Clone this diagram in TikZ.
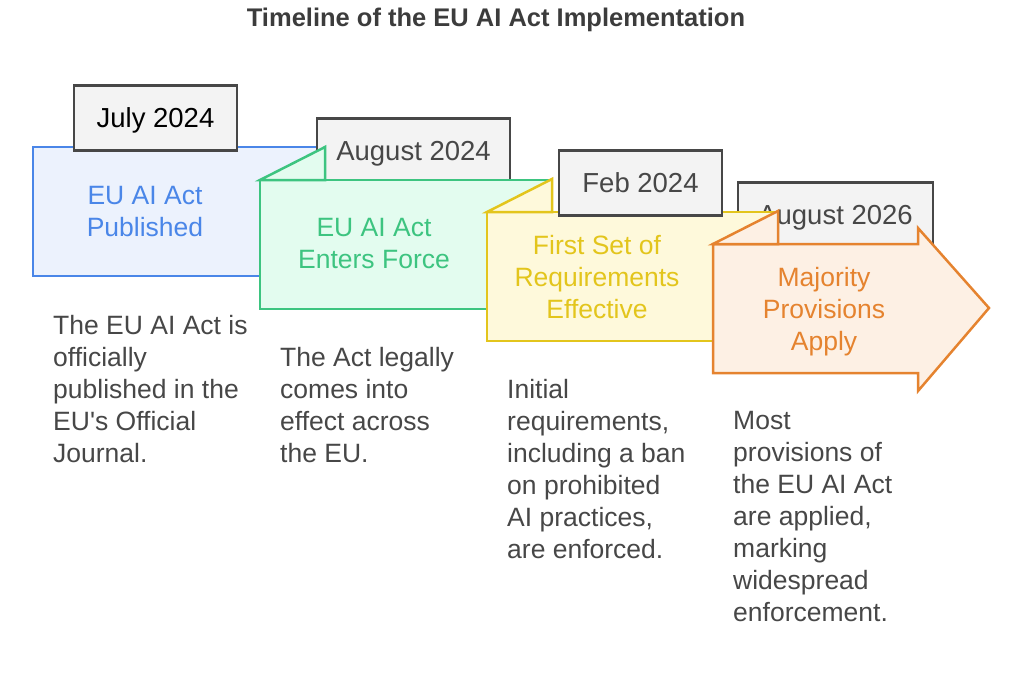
\documentclass[tikz,border=0pt]{standalone}
\usepackage{fontspec}
\setmainfont{Liberation Sans}
\definecolor{actblue}{HTML}{4A86E8}
\definecolor{actbluefill}{HTML}{ECF2FD}
\definecolor{actgreen}{HTML}{3DC480}
\definecolor{actgreenfill}{HTML}{E3FCEF}
\definecolor{actyellow}{HTML}{E3C51C}
\definecolor{actyellowfill}{HTML}{FEF9DB}
\definecolor{actorange}{HTML}{E5832F}
\definecolor{actorangefill}{HTML}{FDF0E4}
\definecolor{boxgray}{HTML}{F3F3F3}
\definecolor{inkgray}{HTML}{474747}
\begin{document}
\begin{tikzpicture}
    [
  x=1pt, y=-1pt,
  folder/.style={
    draw=#1,
    fill=#1fill,
    line width=2.5pt
  },
  datebox/.style={
    draw=inkgray,
    fill=boxgray,
    line width=2.5pt,
    minimum height=65pt,
    inner sep=0pt,
    text=inkgray,
    text height=19.5pt,
    text depth=0pt,
    font=\fontsize{27.5}{32}\selectfont
  },
  heading/.style={
    text=#1,
    align=center,
    inner sep=0pt,
    font=\fontsize{26.5}{32}\selectfont
  },
  note/.style={
    text=inkgray,
    align=left,
    anchor=north west,
    inner sep=0pt,
    font=\fontsize{26.5}{32}\selectfont
  }
  ]
  \useasboundingbox (0,0) rectangle (1024,699);
  \node (title) at (496,20) [font=\bfseries\fontsize{25.5}{28}\selectfont, text=inkgray!85!black] {Timeline of the EU AI Act Implementation};

  % published
  \draw [folder=actblue] (33,147) rectangle (323,276);
  \node (published) at (145,212) [heading=actblue] {EU AI Act\\Published};
  \node (july) at (155.5,118) [datebox, minimum width=163pt, text=black] {July 2024};
  \node (august) at (413.5,151) [datebox, minimum width=193pt] {August 2024};

  % enters force
  \draw [folder=actgreen] (260,180) rectangle (550,309);
  \draw [folder=actgreen] (260,180) -- (325,147) -- (325,180) -- cycle;
  \node (force) at (374,244) [heading=actgreen] {EU AI Act\\Enters Force};
  \node (august26) at (835.5,215) [datebox, minimum width=195pt] {August 2026};

  % first requirements
  \draw [folder=actyellow] (487,212) rectangle (777,341);
  \draw [folder=actyellow] (487,212) -- (552,179) -- (552,212) -- cycle;
  \node (first) at (597,277) [heading=actyellow] {First Set of\\Requirements\\Effective};
  \node (feb) at (640.5,183) [datebox, minimum width=163pt] {Feb 2024};

  % majority provisions
  \draw [folder=actorange] (713,244) -- (918,244) -- (918,228) -- (989,308)
    -- (918,391) -- (918,373) -- (713,373) -- cycle;
  \draw [folder=actorange] (713,244) -- (778,211) -- (778,244) -- cycle;
  \node (majority) at (824,312) [heading=actorange] {Majority\\Provisions\\Apply};

  \node (publishednote) at (53,315) [note] {The EU AI Act is\\officially\\published in the\\EU\textquotesingle s Official\\Journal.};
  \node (forcenote) at (280,347) [note] {The Act legally\\comes into\\effect across\\the EU.};
  \node (firstnote) at (507,379) [note] {Initial\\requirements,\\including a ban\\on prohibited\\AI practices,\\are enforced.};
  \node (majoritynote) at (733,411) [note] {Most\\provisions of\\the EU AI Act\\are applied,\\marking\\widespread\\enforcement.};
\end{tikzpicture}
\end{document}
